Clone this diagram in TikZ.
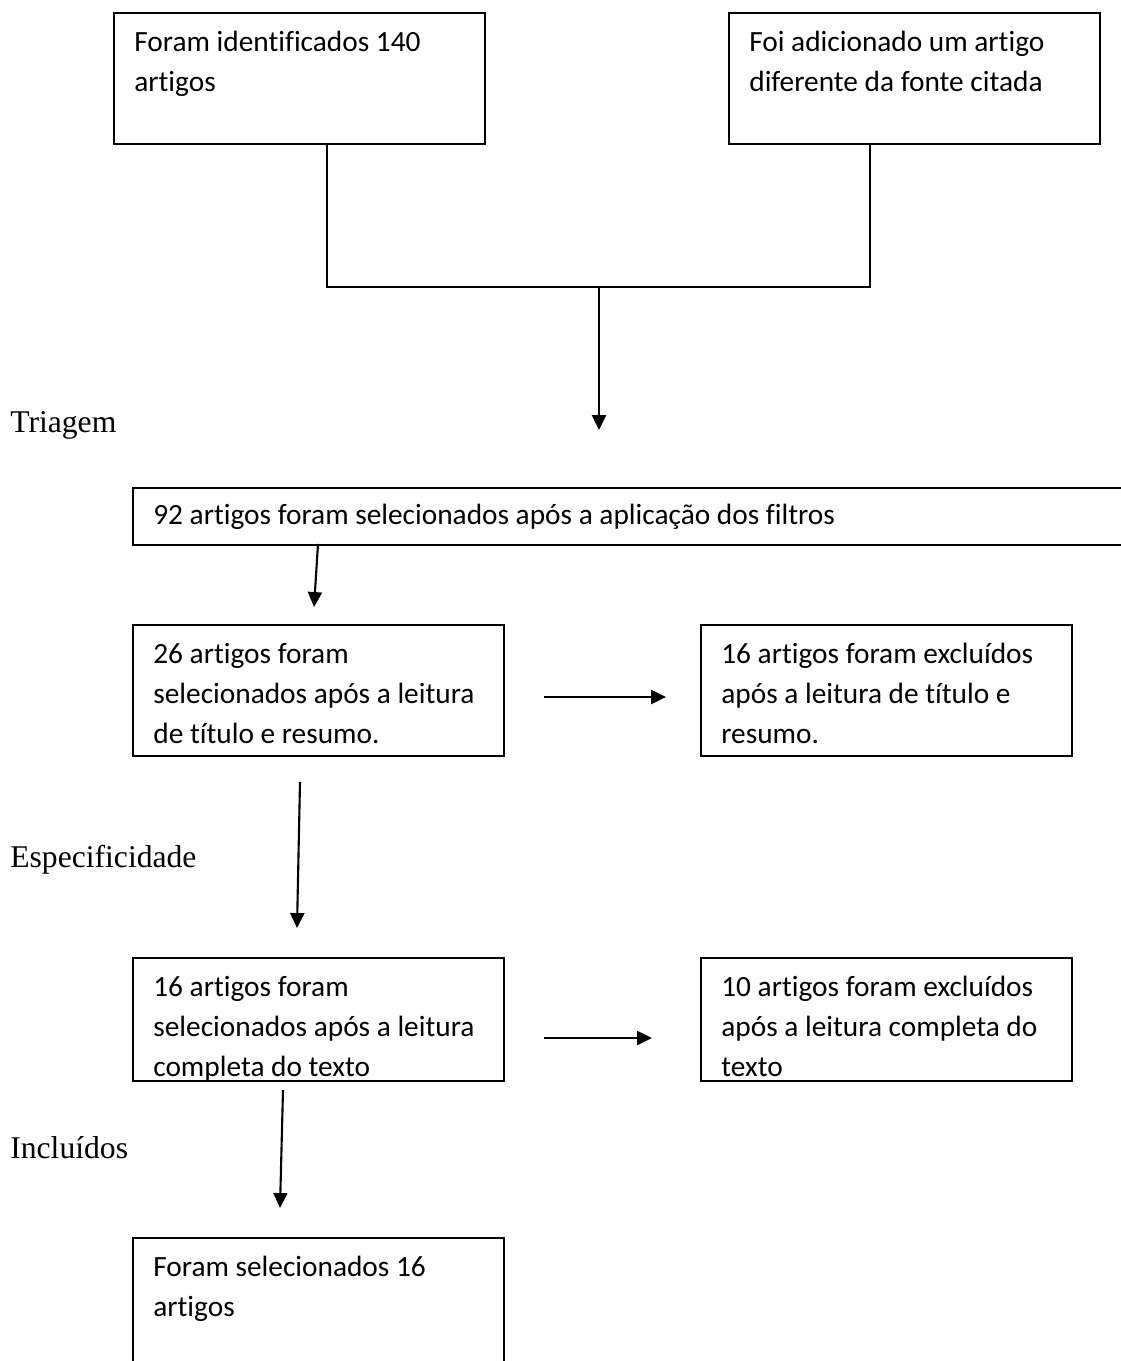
\documentclass[tikz,border=0pt]{standalone}
\usepackage{fontspec}
\newfontfamily\boxfont[Ligatures=NoCommon]{Carlito}
\newfontfamily\stagefont{Liberation Serif}
\usetikzlibrary{
  positioning,
  arrows.meta
}

\tikzset{
  stepbox/.style={draw, line width=1.2pt, anchor=north west, minimum width=7.42cm, minimum height=2.62cm, inner sep=0pt},
  boxtext/.style={anchor=north west, inner sep=0pt, align=left, font=\boxfont\fontsize{16.7}{22.8}\selectfont},
  stage/.style={anchor=west, inner sep=0pt, font=\stagefont\fontsize{18}{22}\selectfont},
  link/.style={line width=1.2pt},
  flow/.style={line width=1.2pt, -{Triangle[width=8pt,length=8.5pt]}}
}

\begin{document}
\begin{tikzpicture}[x=0.02cm,y=-0.02cm]
    \useasboundingbox (0,0) rectangle (1121,1361);

    % identificacao
    \node[stepbox] (ident) at (113,12) {};
    \node[boxtext] (identtxt) at ([shift={(21,19)}]ident.north west) {Foram identificados 140\\artigos};
    \node[stepbox] (addit) at (728,12) {};
    \node[boxtext] (additxt) at ([shift={(21,19)}]addit.north west) {Foi adicionado um artigo\\diferente da fonte citada};

    \coordinate (mergeL) at (327,287);
    \coordinate (mergeR) at (870,287);
    \coordinate (mergeM) at (599,287);
    \coordinate (tipT) at (599,430);
    \draw[link] (ident.south -| mergeL) -- (mergeL) -- (mergeR) -- (addit.south -| mergeR);
    \draw[flow] (mergeM) -- (tipT);

    % triagem
    \node[stage] (triagem) at (10,425) {Triagem};
    \node[stepbox, minimum width=20.4cm, minimum height=1.14cm] (filt) at (132,487) {};
    \node[boxtext, anchor=west] (filttxt) at ([xshift=21*0.02cm]filt.west) {92 artigos foram selecionados após a aplicação dos filtros};

    \coordinate (outF) at (318,544);
    \coordinate (tipF) at (314,607);
    \draw[flow] (outF) -- (tipF);

    \node[stepbox] (sel1) at (132,624) {};
    \node[boxtext] (sel1txt) at ([shift={(21,19)}]sel1.north west) {26 artigos foram\\selecionados após a leitura\\de título e resumo.};
    \node[stepbox] (exc1) at (700,624) {};
    \node[boxtext] (exc1txt) at ([shift={(21,19)}]exc1.north west) {16 artigos foram excluídos\\após a leitura de título e\\resumo.};

    \coordinate (outS1) at (544,697);
    \coordinate (tipS1) at (666,697);
    \draw[flow] (outS1) -- (tipS1);

    % especificidade
    \coordinate (outE) at (300,782);
    \coordinate (tipE) at (297,928);
    \draw[flow] (outE) -- (tipE);
    \node[stage] (especif) at (10,860) {Especificidade};

    \node[stepbox, minimum height=2.46cm] (sel2) at (132,957) {};
    \begin{scope}
        \clip (sel2.north west) rectangle (sel2.south east);
        \node[boxtext] (sel2txt) at ([shift={(21,19)}]sel2.north west) {16 artigos foram\\selecionados após a leitura\\completa do texto};
    \end{scope}
    \node[stepbox, minimum height=2.46cm] (exc2) at (700,957) {};
    \node[boxtext] (exc2txt) at ([shift={(21,19)}]exc2.north west) {10 artigos foram excluídos\\após a leitura completa do\\texto};

    \coordinate (outS2) at (544,1038);
    \coordinate (tipS2) at (652,1038);
    \draw[flow] (outS2) -- (tipS2);

    % incluidos
    \coordinate (outI) at (283,1090);
    \coordinate (tipI) at (280,1208);
    \draw[flow] (outI) -- (tipI);
    \node[stage] (inclu) at (10,1148) {Incluídos};

    \node[stepbox, minimum height=4cm] (final) at (132,1237) {};
    \node[boxtext] (finaltxt) at ([shift={(21,19)}]final.north west) {Foram selecionados 16\\artigos};
\end{tikzpicture}
\end{document}
